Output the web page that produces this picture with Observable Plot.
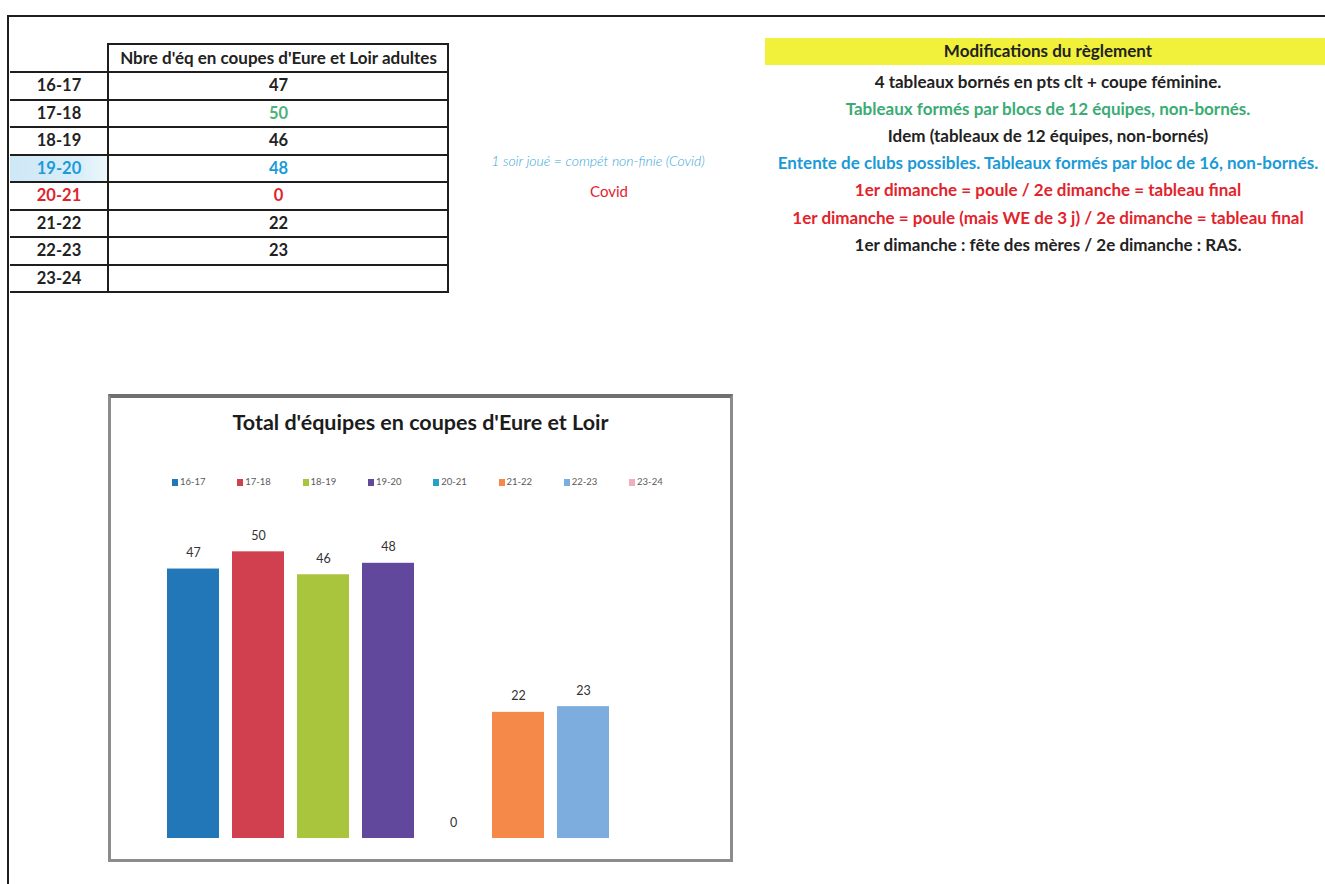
<!DOCTYPE html>
<html>
<head>
<meta charset="utf-8">
<script src="https://cdn.jsdelivr.net/npm/d3@7"></script>
<script src="https://cdn.jsdelivr.net/npm/@observablehq/plot@0.6"></script>
<style>
  html, body { margin: 0; padding: 0; background: #fff; }
  body { width: 1325px; height: 884px; position: relative; overflow: hidden; font-family: Lato, "Open Sans", sans-serif; color: #222; }
  .abs { position: absolute; }
  .frame { left: 7px; top: 15px; width: 1400px; height: 900px; border-left: 2px solid #1e1e1e; border-top: 2px solid #1e1e1e; }
  .hline { position: absolute; height: 2px; background: #1e1e1e; }
  .vline { position: absolute; width: 2px; background: #1e1e1e; }
  .cell { position: absolute; text-align: center; font-weight: 700; font-size: 16.5px; line-height: 27px; white-space: nowrap; }
  .note { position: absolute; text-align: center; white-space: nowrap; font-weight: 700; font-size: 17px; line-height: 20px; }
  .box { position: absolute; left: 108px; top: 394px; width: 625px; height: 468px; box-sizing: border-box; border: 3px solid #8c8c8c; border-top-width: 4px; border-top-color: #6f6f6f; background: #fff; }
  .ctitle { position: absolute; left: 0; right: 0; top: 11px; text-align: center; font-weight: 700; font-size: 21.5px; color: #1c1c1c; }
  .legend { position: absolute; top: 78px; left: 0; height: 12px; }
  .lg { position: absolute; top: 0; font-size: 9.5px; color: #5a5a5a; line-height: 12px; white-space: nowrap; }
  .lg i { display: inline-block; width: 6px; height: 7px; margin-right: 2px; vertical-align: -1px; }
  #chart { position: absolute; left: 111px; top: 490px; }
</style>
</head>
<body>
<div class="abs frame"></div>
<div id="table"></div>
<div id="notes"></div>
<div class="box">
  <div class="ctitle" id="ctitle"></div>
  <div class="legend" id="legend"></div>
</div>
<div id="chart"></div>
<script>
// ---- data ----
const seasons = ["16-17", "17-18", "18-19", "19-20", "20-21", "21-22", "22-23", "23-24"];
const teams = [47, 50, 46, 48, 0, 22, 23, null];
const barColors = ["#2277b8", "#d0404f", "#a9c43d", "#62489c", "#2a9fc9", "#f4894a", "#7cadde", "#eeb0bc"];
const chartTitle = "Total d'équipes en coupes d'Eure et Loir";
const tableHeader = "Nbre d'éq en coupes d'Eure et Loir adultes";
const tableTextColors = ["#222", "#4db37a", "#222", "#1c9bd7", "#e0242c", "#222", "#222", "#222"];
const rulesTitle = "Modifications du règlement";
const rulesLines = [
  "4 tableaux bornés en pts clt + coupe féminine.",
  "Tableaux formés par blocs de 12 équipes, non-bornés.",
  "Idem (tableaux de 12 équipes, non-bornés)",
  "Entente de clubs possibles. Tableaux formés par bloc de 16, non-bornés.",
  "1er dimanche = poule / 2e dimanche = tableau final",
  "1er dimanche = poule (mais WE de 3 j) / 2e dimanche = tableau final",
  "1er dimanche : fête des mères / 2e dimanche : RAS."
];
const rulesColors = ["#222", "#3bab74", "#222", "#1b9ad6", "#e3232c", "#e3232c", "#222"];
const covidNote = "1 soir joué = compét non-finie (Covid)";
const covidLabel = "Covid";

// ---- table ----
const tbl = document.getElementById("table");
function add(parent, cls, style, text) {
  const d = document.createElement("div");
  d.className = cls;
  Object.assign(d.style, style);
  if (text != null) d.textContent = text;
  parent.appendChild(d);
  return d;
}
const rowTop = 71, rowH = 27.5;
add(tbl, "hline", {left: "108px", top: "43px", width: "341px"});
add(tbl, "cell", {left: "110px", top: "44px", width: "337px", color: "#222", fontSize: "17px"}, tableHeader);
add(tbl, "abs", {left: "10px", top: (rowTop + 3 * rowH + 2) + "px", width: "98px", height: (rowH - 2) + "px", background: "linear-gradient(90deg, #cfe8f6 0%, #d9eef8 70%, #eef7fb 100%)"});
seasons.forEach((s, i) => {
  const top = rowTop + i * rowH;
  add(tbl, "hline", {left: "10px", top: top + "px", width: "439px"});
  add(tbl, "cell", {left: "10px", top: (top + 1) + "px", width: "98px", color: (i === 3 || i === 4) ? tableTextColors[i] : "#222"}, s);
  add(tbl, "cell", {left: "110px", top: (top + 1) + "px", width: "337px", color: tableTextColors[i]}, teams[i] == null ? "" : String(teams[i]));
});
add(tbl, "hline", {left: "10px", top: (rowTop + 8 * rowH) + "px", width: "439px"});
add(tbl, "vline", {left: "107px", top: "43px", height: (rowTop + 8 * rowH - 43 + 2) + "px"});
add(tbl, "vline", {left: "447px", top: "43px", height: (rowTop + 8 * rowH - 43 + 2) + "px"});

// ---- notes ----
const notes = document.getElementById("notes");
add(notes, "abs", {left: "765px", top: "38px", width: "570px", height: "27px", background: "#f1f13c"});
add(notes, "note", {left: "748px", top: "41px", width: "600px", color: "#222"}, rulesTitle);
const lineYs = [82, 109, 136, 163, 190, 218, 245];
rulesLines.forEach((t, i) => {
  add(notes, "note", {left: "748px", top: (lineYs[i] - 10) + "px", width: "600px", color: rulesColors[i]}, t);
});
add(notes, "abs", {left: "448px", top: "152px", width: "300px", textAlign: "center", fontStyle: "italic", fontSize: "14px", color: "#3aa6d8", fontWeight: "300", whiteSpace: "nowrap", lineHeight: "18px"}, covidNote);
add(notes, "abs", {left: "559px", top: "181px", width: "100px", textAlign: "center", fontSize: "15px", color: "#e3232c", lineHeight: "20px"}, covidLabel);

// ---- chart title & legend ----
document.getElementById("ctitle").textContent = chartTitle;
const lg = document.getElementById("legend");
seasons.forEach((s, i) => {
  const d = add(lg, "lg", {left: (61 + i * 65.3) + "px"});
  const sw = document.createElement("i");
  sw.style.background = barColors[i];
  d.appendChild(sw);
  d.appendChild(document.createTextNode(s));
});

// ---- chart ----
const data = seasons.map((s, i) => ({season: s, teams: teams[i]})).filter(d => d.teams != null);
const chart = Plot.plot({
  width: 618,
  height: 350,
  marginLeft: 42.5,
  marginRight: 42.5,
  marginTop: 4,
  marginBottom: 2,
  style: {background: "transparent", fontFamily: "Lato, 'Open Sans', sans-serif"},
  x: {domain: seasons, padding: 0.2, axis: null},
  y: {domain: [0, 60], axis: null},
  color: {domain: seasons, range: barColors},
  marks: [
    Plot.barY(data, {x: "season", y: "teams", fill: "season"}),
    Plot.text(data, {x: "season", y: "teams", text: d => String(d.teams), dy: -16, fontSize: 12.5, fill: "#333"})
  ]
});
document.getElementById("chart").appendChild(chart);
</script>
</body>
</html>
